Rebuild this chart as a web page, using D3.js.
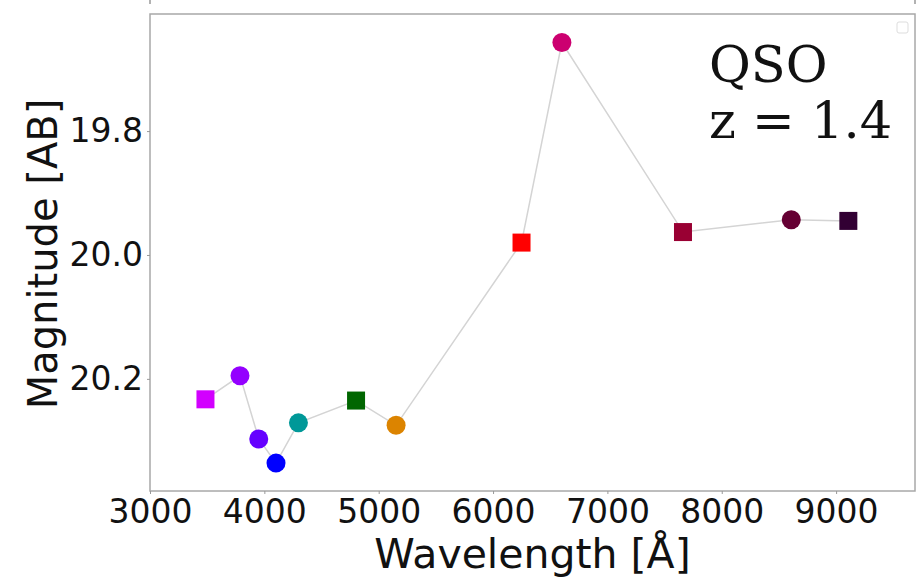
<!DOCTYPE html>
<html>
<head>
<meta charset="utf-8">
<script src="https://cdn.jsdelivr.net/npm/d3@7"></script>
<style>
  html, body { margin: 0; padding: 0; background: #ffffff; }
  svg { display: block; }
</style>
</head>
<body>
<svg id="chart" width="918" height="580"></svg>
<script>
// ---- data ----
const filters = ["uJAVA","J0378","J0395","J0410","J0430","gSDSS","J0515","rSDSS","J0660","iSDSS","J0861","zSDSS"];
const wavelengths = [3485, 3787, 3951, 4102, 4298, 4802, 5152, 6249, 6602, 7661, 8608, 9107];
const magnitudes = [20.233, 20.195, 20.297, 20.336, 20.271, 20.235, 20.275, 19.980, 19.657, 19.963, 19.943, 19.945];
const shapes = ["square","circle","circle","circle","circle","square","circle","square","circle","square","circle","square"];
const colors = ["#d200ff","#9400ff","#6500ff","#0000ff","#009898","#006600","#dc8400","#ff0000","#cc0070","#990033","#650033","#320033"];
const xTicks = [3000, 4000, 5000, 6000, 7000, 8000, 9000];
const yTicks = [19.8, 20.0, 20.2];
const annotation = ["QSO", "z = 1.4"];

// ---- layout ----
const svg = d3.select("#chart");
const L = 150, R = 915, T = 14, B = 491;
const x = d3.scaleLinear().domain([3000, 9690]).range([L, R]);
const y = d3.scaleLinear().domain([19.611, 20.381]).range([T, B]);

// stubs of the panel above
svg.append("line").attr("x1", L).attr("x2", L).attr("y1", 0).attr("y2", 4)
  .attr("stroke", "#999").attr("stroke-width", 1.5);
svg.append("line").attr("x1", R).attr("x2", R).attr("y1", 0).attr("y2", 4)
  .attr("stroke", "#999").attr("stroke-width", 1.5);

// frame
svg.append("rect").attr("x", L).attr("y", T).attr("width", R - L).attr("height", B - T)
  .attr("fill", "#fff").attr("stroke", "#a8a8a8").attr("stroke-width", 1.5);

// axes
const xAxis = svg.append("g").attr("transform", `translate(0,${B})`)
  .call(d3.axisBottom(x).tickValues(xTicks).tickSize(3).tickPadding(6).tickFormat(d3.format("d")));
const yAxis = svg.append("g").attr("transform", `translate(${L},0)`)
  .call(d3.axisLeft(y).tickValues(yTicks).tickSize(3).tickPadding(4).tickFormat(d3.format(".1f")));
[xAxis, yAxis].forEach(g => {
  g.select(".domain").remove();
  g.selectAll(".tick line").attr("stroke", "#999").attr("stroke-width", 1);
  g.selectAll(".tick text").attr("fill", "#111")
    .style("font-family", "'DejaVu Sans', sans-serif").style("font-size", "33px");
});

// connecting line
const pts = wavelengths.map((w, i) => ({w, m: magnitudes[i], s: shapes[i], c: colors[i], f: filters[i]}));
svg.append("path").datum(pts)
  .attr("d", d3.line().x(d => x(d.w)).y(d => y(d.m)))
  .attr("fill", "none").attr("stroke", "#d4d4d4").attr("stroke-width", 1.5);

// markers
const sq = 18, rad = 9.5;
svg.selectAll("rect.mk").data(pts.filter(d => d.s === "square")).enter()
  .append("rect").attr("class", "mk")
  .attr("x", d => x(d.w) - sq / 2).attr("y", d => y(d.m) - sq / 2)
  .attr("width", sq).attr("height", sq).attr("fill", d => d.c);
svg.selectAll("circle.mk").data(pts.filter(d => d.s === "circle")).enter()
  .append("circle").attr("class", "mk")
  .attr("cx", d => x(d.w)).attr("cy", d => y(d.m)).attr("r", rad).attr("fill", d => d.c);

// empty legend box
svg.append("rect").attr("x", 897).attr("y", 22).attr("width", 11).attr("height", 11).attr("rx", 2)
  .attr("fill", "#fff").attr("stroke", "#dddddd").attr("stroke-width", 1);

// annotation
svg.selectAll("text.ann").data(annotation).enter().append("text").attr("class", "ann")
  .attr("x", 709).attr("y", (d, i) => 82 + i * 56)
  .style("font-family", "'DejaVu Serif', serif").style("font-size", "51px").attr("fill", "#111")
  .text(d => d);

// axis labels
svg.append("text").attr("x", (L + R) / 2).attr("y", 568).attr("text-anchor", "middle")
  .style("font-family", "'DejaVu Sans', sans-serif").style("font-size", "41px").attr("fill", "#111")
  .text("Wavelength [Å]");
svg.append("text").attr("transform", `translate(57,254) rotate(-90)`).attr("text-anchor", "middle")
  .style("font-family", "'DejaVu Sans', sans-serif").style("font-size", "40px").attr("fill", "#111")
  .text("Magnitude [AB]");
</script>
</body>
</html>
